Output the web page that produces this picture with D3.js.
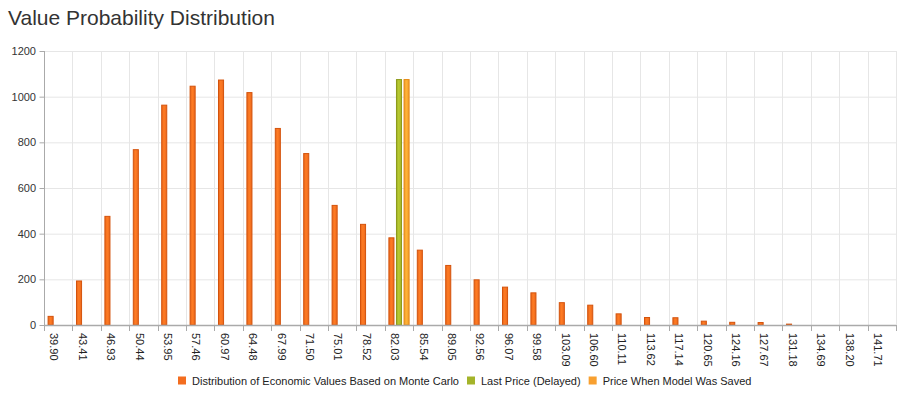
<!DOCTYPE html>
<html lang="en">
  <head>
    <meta charset="utf-8">
    <title>Value Probability Distribution</title>
    <script src="https://d3js.org/d3.v7.min.js"></script>
    <style>
      body { margin: 0; background: #fff; font-family: "Liberation Sans", Arial, sans-serif; }
      .title { font-size: 21px; fill: #333; }
      .ylab { font-size: 11px; fill: #333; }
      .xlab { font-size: 11px; fill: #222; }
      .leg { font-size: 11px; fill: #222; }
    </style>
  </head>
  <body>
    <svg id="chart" width="906" height="395"></svg>
    <script>
      // category labels (bin centres)
      const categories = ['39.90','43.41','46.93','50.44','53.95','57.46','60.97','64.48','67.99','71.50',
        '75.01','78.52','82.03','85.54','89.05','92.56','96.07','99.58','103.09','106.60',
        '110.11','113.62','117.14','120.65','124.16','127.67','131.18','134.69','138.20','141.71'];
      const distribution = [40,195,478,770,965,1048,1075,1020,863,753,
        526,443,384,330,263,200,168,143,100,89,
        51,35,34,19,14,13,6,2,0,2];
      const lastPrice = { cat: '82.03', value: 1077 };
      const savedPrice = { cat: '82.03', value: 1077 };
      const yTicks = [0,200,400,600,800,1000,1200];
      const seriesNames = ['Distribution of Economic Values Based on Monte Carlo','Last Price (Delayed)','Price When Model Was Saved'];
      const seriesColors = ['#f36d1f','#a4b42a','#f8a030'];
      const seriesStroke = ['#d4530c','#8b9a18','#e5870f'];

      const svg = d3.select('#chart');
      const pLeft = 44, pRight = 896, pTop = 51, pBottom = 325;

      svg.append('text').attr('class','title').attr('x',8).attr('y',25).text('Value Probability Distribution');

      const x = d3.scaleBand().domain(categories).range([pLeft, pRight]);
      const bw = x.bandwidth();
      const xs = d3.scaleBand().domain([0,1,2]).range([bw*0.1, bw*0.9]).paddingInner(0.2).paddingOuter(0.1);
      const y = d3.scaleLinear().domain([0,1200]).range([pBottom, pTop]);

      // gradients
      const defs = svg.append('defs');
      seriesColors.forEach(function(c,i){
        const g = defs.append('linearGradient').attr('id','g'+i).attr('x1','0').attr('x2','1').attr('y1','0').attr('y2','0');
        g.append('stop').attr('offset','0').attr('stop-color', d3.color(c).darker(0.15));
        g.append('stop').attr('offset','0.45').attr('stop-color', d3.color(c).brighter(0.35));
        g.append('stop').attr('offset','1').attr('stop-color', d3.color(c).darker(0.1));
      });

      // grid
      svg.append('g').selectAll('line').data(yTicks.slice(1)).join('line')
        .attr('x1',pLeft).attr('x2',pRight).attr('y1',d=>y(d)+0.5).attr('y2',d=>y(d)+0.5)
        .attr('stroke','#e6e6e6');
      const bounds = categories.map(c=>x(c)).concat([pRight]);
      svg.append('g').selectAll('line').data(bounds.slice(1)).join('line')
        .attr('x1',d=>Math.round(d)+0.5).attr('x2',d=>Math.round(d)+0.5).attr('y1',pTop).attr('y2',pBottom)
        .attr('stroke','#e6e6e6');

      // bars
      function drawBars(data, i) {
        svg.append('g').selectAll('rect').data(data).join('rect')
          .attr('x', d=>x(d.cat)+xs(i)+0.5)
          .attr('width', xs.bandwidth()-1)
          .attr('y', d=>y(d.value)+0.5)
          .attr('height', d=>Math.max(0, pBottom-y(d.value)-0.5))
          .attr('fill','url(#g'+i+')')
          .attr('stroke', seriesStroke[i]);
      }
      drawBars(categories.map((c,k)=>({cat:c, value:distribution[k]})), 0);
      drawBars([lastPrice], 1);
      drawBars([savedPrice], 2);

      // y axis
      const yAxis = svg.append('g').attr('transform','translate('+pLeft+',0)')
        .call(d3.axisLeft(y).tickValues(yTicks).tickFormat(d3.format('d')).tickSize(5).tickPadding(3));
      yAxis.select('.domain').attr('stroke','#aaa').attr('d','M0.5,'+pTop+'V'+pBottom);
      yAxis.selectAll('.tick line').attr('stroke','#aaa').attr('transform','translate(0.5,0)');
      yAxis.selectAll('text').attr('class','ylab');
      yAxis.attr('font-family',null).attr('font-size',null);

      // x axis
      const xg = svg.append('g').attr('transform','translate(0,'+pBottom+')');
      xg.append('line').attr('x1',pLeft).attr('x2',pRight).attr('y1',0.5).attr('y2',0.5).attr('stroke','#aaa').attr('stroke-width',1.5);
      xg.selectAll('.tk').data(bounds).join('line').attr('class','tk')
        .attr('x1',d=>Math.round(d)+0.5).attr('x2',d=>Math.round(d)+0.5).attr('y1',0).attr('y2',6).attr('stroke','#aaa');
      xg.selectAll('.xlab').data(categories).join('text').attr('class','xlab')
        .attr('transform', d=>'translate('+(x(d)+bw/2-4)+',8) rotate(90)')
        .attr('dy','0.35em').text(d=>d);

      // legend
      const leg = svg.append('g').attr('transform','translate(0,381)');
      let lx = 178;
      seriesNames.forEach(function(n,i){
        leg.append('rect').attr('x',lx).attr('y',-4.5).attr('width',8).attr('height',8).attr('fill',seriesColors[i]);
        const t = leg.append('text').attr('class','leg').attr('x',lx+14).attr('dy','0.35em').text(n);
        lx += 14 + t.node().getComputedTextLength() + 8;
      });
    </script>
  </body>
</html>
